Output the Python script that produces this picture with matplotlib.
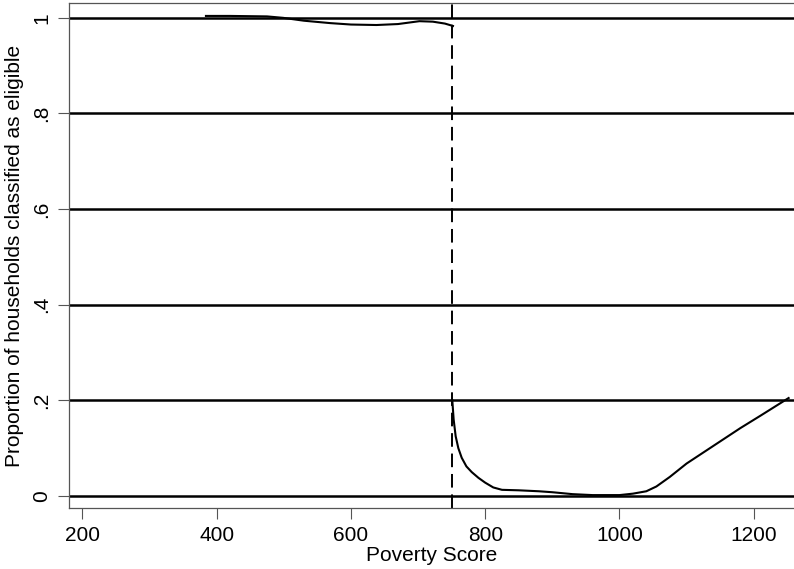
import matplotlib
matplotlib.use("Agg")
import matplotlib.pyplot as plt

plt.rcParams['font.family'] = ['Liberation Sans', 'DejaVu Sans']

# left of cutoff (score < 750)
left_x = [384, 420, 475, 499, 530, 569, 600, 638, 670, 702, 722, 740, 752]
left_y = [1.004, 1.004, 1.003, 1.000, 0.994, 0.989, 0.986, 0.985, 0.987, 0.993, 0.992, 0.988, 0.983]

# right of cutoff (score >= 750)
right_x = [751, 753, 756, 760, 765, 772, 780, 790, 800, 812, 825, 850, 880, 900, 930, 960,
           1000, 1020, 1040, 1055, 1075, 1100, 1140, 1180, 1210, 1252]
right_y = [0.200, 0.160, 0.125, 0.100, 0.080, 0.062, 0.050, 0.038, 0.028, 0.018, 0.013, 0.012,
           0.010, 0.008, 0.004, 0.002, 0.002, 0.005, 0.010, 0.020, 0.040, 0.068, 0.105,
           0.142, 0.168, 0.205]

cutoff = 750
xticks = [200, 400, 600, 800, 1000, 1200]
yticks = [0, 0.2, 0.4, 0.6, 0.8, 1]
ytick_labels = ['0', '.2', '.4', '.6', '.8', '1']

fig = plt.figure(figsize=(7.94, 5.69), dpi=100)
ax = fig.add_axes([0.0869, 0.1072, 1 - 0.0869, 0.9947 - 0.1072])

for yv in yticks:
    ax.axhline(yv, color='black', lw=1.8, zorder=1)
ax.axvline(cutoff, color='black', lw=1.4, ls=(0, (7, 3.5)), zorder=2)

ax.plot(left_x, left_y, color='black', lw=1.5, zorder=3)
ax.plot(right_x, right_y, color='black', lw=1.5, zorder=3)

ax.set_xlim(180, 1260)
ax.set_ylim(-0.025, 1.031)
ax.set_xticks(xticks)
ax.set_yticks(yticks)
ax.set_yticklabels(ytick_labels, rotation=90, va='center')
ax.tick_params(axis='both', labelsize=15, length=8, width=0.8, color='#555555', pad=5)

for side in ['left', 'bottom', 'top']:
    ax.spines[side].set_color('#555555')
    ax.spines[side].set_linewidth(0.9)
ax.spines['right'].set_visible(False)

ax.set_xlabel('Poverty Score', fontsize=15, labelpad=1)
ax.set_ylabel('Proportion of households classified as eligible', fontsize=15, labelpad=6)

fig.savefig('out.png', dpi=100)
